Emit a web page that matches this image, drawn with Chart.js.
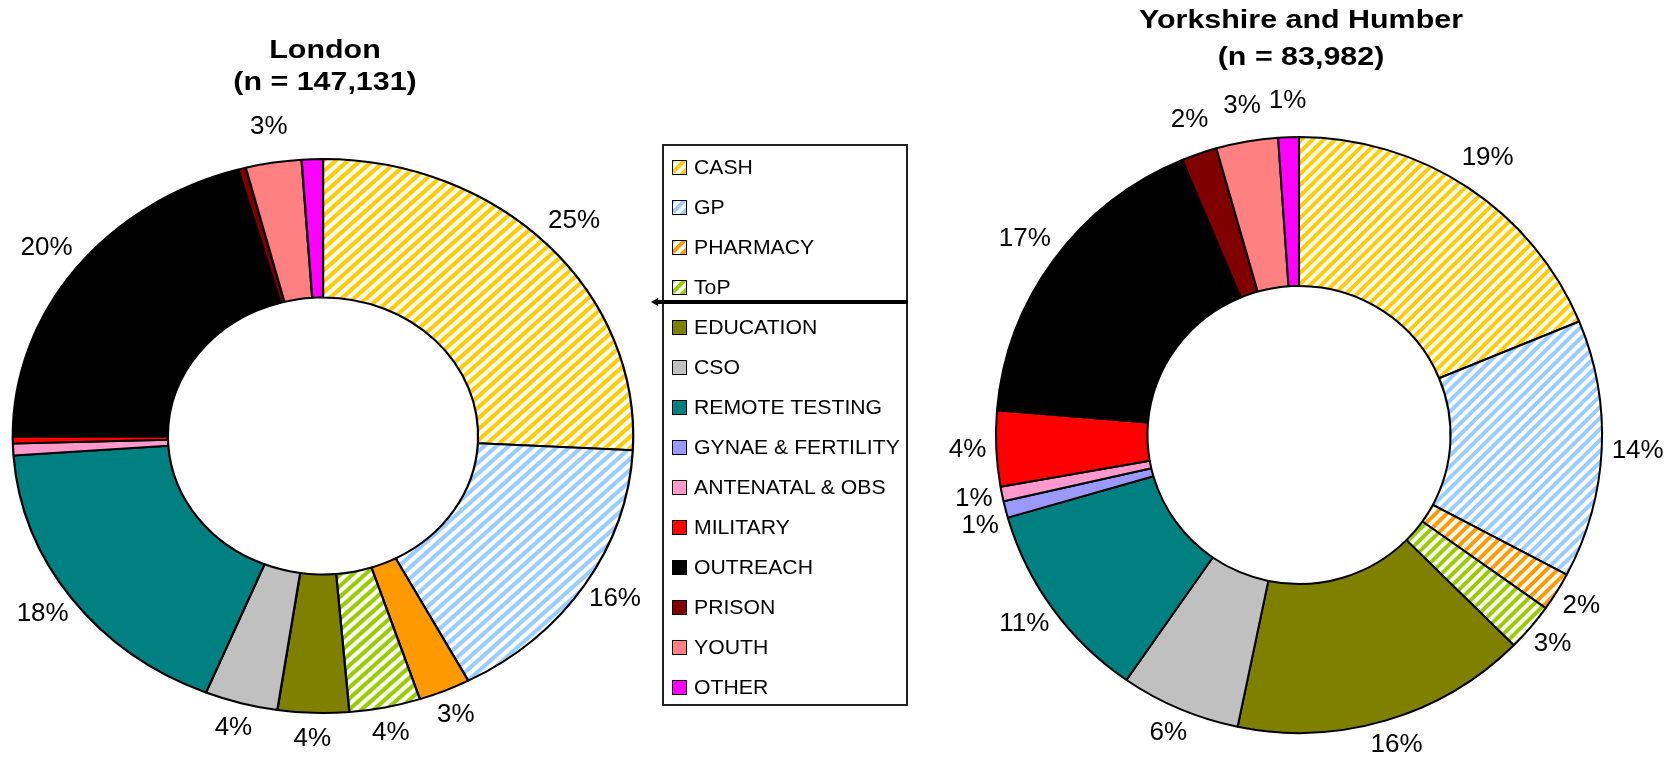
<!DOCTYPE html>
<html>
<head>
<meta charset="utf-8">
<script src="https://cdn.jsdelivr.net/npm/chart.js@4.4.0/dist/chart.umd.min.js"></script>
<style>
  body { margin: 0; background: #fff; }
  #page { position: relative; width: 1668px; height: 769px; overflow: hidden;
          font-family: 'Liberation Sans', Arial, sans-serif; color: #000; }
  canvas.chart { position: absolute; left: 0; top: 0; }
  .title { position: absolute; font-weight: bold; font-size: 26px; line-height: 1;
           white-space: nowrap; transform: translate(-50%, -50%) scaleX(1.17); }
  #legend { position: absolute; left: 662px; top: 144px; width: 246px; height: 562px;
            border: 2px solid #222; box-sizing: border-box; }
  .item { position: absolute; left: 8px; height: 22px; display: flex; align-items: center;
          font-size: 20px; white-space: nowrap; }
  .item canvas { width: 13px; height: 13px; border: 1px solid #000; margin-right: 7px; }
  .item span { display: inline-block; transform: scaleX(1.06); transform-origin: left center; }
  #sep { position: absolute; left: 657px; top: 300px; width: 251px; height: 4px; background: #000; }
  #sepTip { position: absolute; left: 651px; top: 298px; width: 0; height: 0;
            border-top: 4px solid transparent; border-bottom: 4px solid transparent;
            border-right: 7px solid #000; }
</style>
</head>
<body>
<div id="page">
  <canvas id="london" class="chart" width="1668" height="769"></canvas>
  <canvas id="yorkshire" class="chart" width="1668" height="769"></canvas>
  <div class="title" style="left:325px;top:49px">London</div>
  <div class="title" style="left:325px;top:81px">(n = 147,131)</div>
  <div class="title" style="left:1301px;top:19px">Yorkshire and Humber</div>
  <div class="title" style="left:1301px;top:56px">(n = 83,982)</div>
  <div id="legend"></div>
  <div id="sep"></div>
  <div id="sepTip"></div>
</div>
<script>
// categories shared by both rings
const categories = ['CASH', 'GP', 'PHARMACY', 'ToP', 'EDUCATION', 'CSO', 'REMOTE TESTING',
  'GYNAE & FERTILITY', 'ANTENATAL & OBS', 'MILITARY', 'OUTREACH', 'PRISON', 'YOUTH', 'OTHER'];

// share of tests (%)
const londonValues = [25.8, 16.4, 2.7, 3.7, 3.7, 3.8, 17.7, 0, 0.7, 0.4, 20.6, 0.4, 2.9, 1.1];
const yorkshireValues = [18.8, 14.0, 2.1, 2.6, 15.8, 6.4, 10.9, 0.9, 0.8, 4.1, 17.4, 1.9, 3.3, 1.1];

// printed labels ('' = no label shown)
const londonLabels = ['25%', '16%', '3%', '4%', '4%', '4%', '18%', '', '', '', '20%', '', '3%', ''];
const yorkshireLabels = ['19%', '14%', '2%', '3%', '16%', '6%', '11%', '1%', '1%', '4%', '17%', '2%', '3%', '1%'];

const colors = ['#FFCC00', '#99CCFF', '#FF9900', '#99CC00', '#808000', '#C0C0C0', '#008080',
  '#9999FF', '#FF99CC', '#FF0000', '#000000', '#800000', '#FF8080', '#FF00FF'];
const londonHatch = [1, 1, 0, 1, 0, 0, 0, 0, 0, 0, 0, 0, 0, 0];
const yorkshireHatch = [1, 1, 1, 1, 0, 0, 0, 0, 0, 0, 0, 0, 0, 0];

function hatch(ctx, color) {
  const s = 11;
  const c = document.createElement('canvas');
  c.width = s; c.height = s;
  const g = c.getContext('2d');
  g.fillStyle = '#fff';
  g.fillRect(0, 0, s, s);
  g.strokeStyle = color;
  g.lineWidth = 4;
  g.beginPath();
  g.moveTo(-2, 2); g.lineTo(2, -2);
  g.moveTo(0, s); g.lineTo(s, 0);
  g.moveTo(s - 2, s + 2); g.lineTo(s + 2, s - 2);
  g.stroke();
  return ctx.createPattern(c, 'repeat');
}

// the original rings are a bit wider than tall
const stretch = {
  id: 'stretch',
  beforeDatasetsDraw(chart, args, opts) {
    const arc = chart.getDatasetMeta(0).data[0];
    const ctx = chart.ctx;
    ctx.save();
    ctx.translate(arc.x, arc.y);
    ctx.scale(opts.x, 1);
    ctx.translate(-arc.x, -arc.y);
  },
  afterDatasetsDraw(chart) {
    chart.ctx.restore();
  }
};

// percentage labels outside the ring, nudged apart when they collide
const outsideLabels = {
  id: 'outsideLabels',
  afterDraw(chart, args, opts) {
    const ctx = chart.ctx;
    const sx = chart.options.plugins.stretch.x;
    const arcs = chart.getDatasetMeta(0).data;
    const placed = [];
    ctx.save();
    ctx.font = '26px "Liberation Sans", Arial, sans-serif';
    ctx.fillStyle = '#000';
    ctx.textAlign = 'center';
    ctx.textBaseline = 'middle';
    for (let i = arcs.length - 1; i >= 0; i--) {
      const t = opts.texts[i];
      if (!t) continue;
      const arc = arcs[i];
      const a = (arc.startAngle + arc.endAngle) / 2;
      const c = Math.cos(a), s = Math.sin(a);
      const hw = ctx.measureText(t).width / 2, hh = 16;
      const up = s < 0 ? 10 : 0;
      let x = arc.x + c * (arc.outerRadius * sx + opts.gap + hw);
      let y = arc.y + s * (arc.outerRadius + opts.gap + hh + up);
      for (let k = 0; k < 30; k++) {
        const hit = placed.some(p => Math.abs(p.x - x) < p.hw + hw + 2 && Math.abs(p.y - y) < 26);
        if (!hit) break;
        x += s * 2;
        y -= c * 2;
      }
      placed.push({ x, y, hw });
      ctx.fillText(t, x, y);
    }
    ctx.restore();
  }
};

function ring(id, values, texts, hatchFlags, radius, sx, padding) {
  const ctx = document.getElementById(id).getContext('2d');
  const bg = colors.map((col, i) => hatchFlags[i] ? hatch(ctx, col) : col);
  return new Chart(ctx, {
    type: 'doughnut',
    data: {
      labels: categories,
      datasets: [{
        data: values,
        backgroundColor: bg,
        borderColor: '#000',
        borderWidth: 2
      }]
    },
    options: {
      responsive: false,
      animation: false,
      events: [],
      cutout: '50%',
      radius: radius,
      layout: { padding: padding },
      plugins: {
        legend: { display: false },
        tooltip: { enabled: false },
        stretch: { x: sx },
        outsideLabels: { texts: texts, gap: 10 }
      }
    },
    plugins: [stretch, outsideLabels]
  });
}

ring('london', londonValues, londonLabels, londonHatch, 277, 1.12,
  { left: 0, right: 1022, top: 103, bottom: 0 });
ring('yorkshire', yorkshireValues, yorkshireLabels, yorkshireHatch, 298, 1.017,
  { left: 930, right: 0, top: 101, bottom: 0 });

// shared legend
const legend = document.getElementById('legend');
categories.forEach((name, i) => {
  const item = document.createElement('div');
  item.className = 'item';
  item.style.top = (23 - 11 - 2 + i * 40) + 'px';
  const box = document.createElement('canvas');
  box.width = 13; box.height = 13;
  const g = box.getContext('2d');
  g.fillStyle = yorkshireHatch[i] ? hatch(g, colors[i]) : colors[i];
  g.fillRect(0, 0, 13, 13);
  const label = document.createElement('span');
  label.textContent = name;
  item.appendChild(box);
  item.appendChild(label);
  legend.appendChild(item);
});
</script>
</body>
</html>
